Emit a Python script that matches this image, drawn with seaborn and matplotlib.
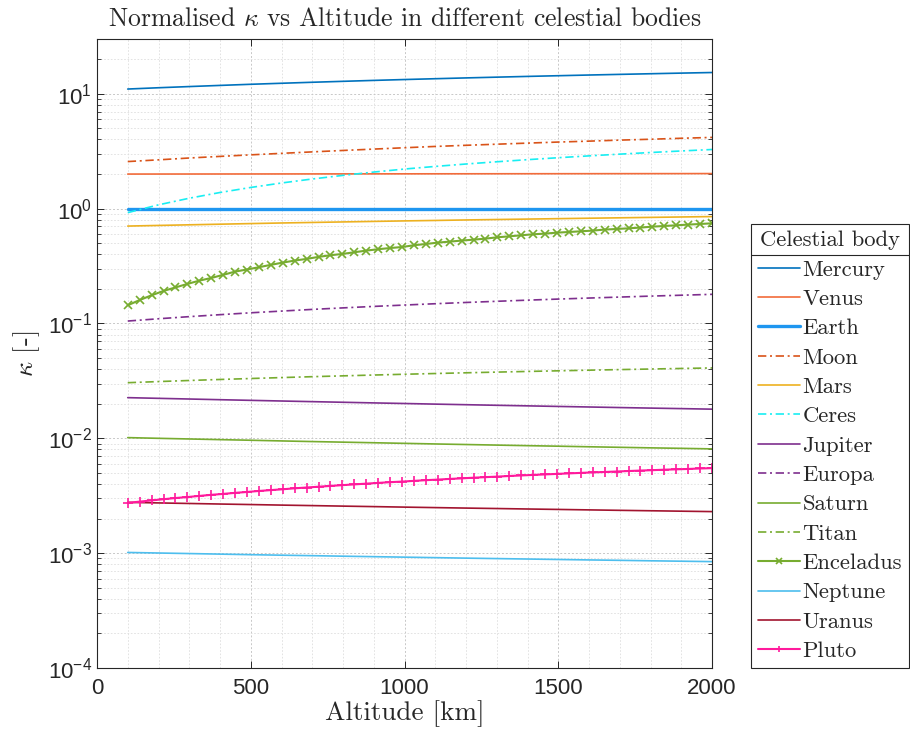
import numpy as np
import matplotlib
matplotlib.use("Agg")
import matplotlib.pyplot as plt
import seaborn as sns
from matplotlib.ticker import LogLocator, MultipleLocator, FixedLocator, NullFormatter
from matplotlib.lines import Line2D

# ---------------- data ----------------
alt_line = [100, 200, 300, 400, 500, 600, 700, 800, 900, 1000,
            1100, 1200, 1300, 1400, 1500, 1600, 1700, 1800, 1900, 2000]
alt_mark = np.linspace(100, 2000, 50)

mercury = [11.00, 11.29, 11.56, 11.83, 12.10, 12.35, 12.60, 12.84, 13.08, 13.31,
           13.53, 13.75, 13.96, 14.17, 14.37, 14.57, 14.76, 14.95, 15.14, 15.32]
venus = [2.000, 2.001, 2.002, 2.003, 2.004, 2.005, 2.006, 2.007, 2.008, 2.009,
         2.010, 2.011, 2.012, 2.013, 2.014, 2.015, 2.016, 2.017, 2.018, 2.020]
earth = [1.0] * 20
moon = [2.57, 2.66, 2.76, 2.85, 2.94, 3.03, 3.12, 3.21, 3.30, 3.39,
        3.48, 3.56, 3.64, 3.72, 3.80, 3.87, 3.95, 4.02, 4.10, 4.17]
mars = [0.705, 0.714, 0.723, 0.732, 0.741, 0.750, 0.758, 0.766, 0.774, 0.782,
        0.789, 0.797, 0.804, 0.811, 0.818, 0.825, 0.832, 0.839, 0.846, 0.853]
ceres = [0.923, 1.079, 1.232, 1.382, 1.529, 1.672, 1.812, 1.948, 2.082, 2.212,
         2.331, 2.447, 2.559, 2.669, 2.776, 2.880, 2.982, 3.081, 3.178, 3.273]
jupiter = [0.02260, 0.02229, 0.02199, 0.02169, 0.02141, 0.02113, 0.02086, 0.02060, 0.02034, 0.02010,
           0.01985, 0.01962, 0.01939, 0.01917, 0.01895, 0.01874, 0.01853, 0.01833, 0.01814, 0.01794]
europa = [0.1050, 0.1099, 0.1147, 0.1193, 0.1239, 0.1282, 0.1326, 0.1367, 0.1408, 0.1447,
          0.1486, 0.1524, 0.1560, 0.1596, 0.1631, 0.1665, 0.1698, 0.1731, 0.1762, 0.1794]
saturn = [0.01014, 0.01000, 0.00987, 0.00974, 0.00962, 0.00949, 0.00937, 0.00926, 0.00915, 0.00904,
          0.00893, 0.00883, 0.00873, 0.00863, 0.00854, 0.00844, 0.00835, 0.00826, 0.00818, 0.00809]
titan = [0.03050, 0.03120, 0.03188, 0.03254, 0.03317, 0.03380, 0.03441, 0.03499, 0.03557, 0.03613,
         0.03667, 0.03720, 0.03772, 0.03822, 0.03871, 0.03920, 0.03967, 0.04012, 0.04057, 0.04100]
neptune = [0.001014, 0.001003, 0.000992, 0.000981, 0.000970, 0.000960, 0.000951, 0.000941, 0.000932, 0.000923,
           0.000914, 0.000905, 0.000897, 0.000889, 0.000881, 0.000873, 0.000866, 0.000858, 0.000851, 0.000844]
uranus = [0.002770, 0.002738, 0.002708, 0.002678, 0.002650, 0.002621, 0.002595, 0.002568, 0.002543, 0.002517,
          0.002493, 0.002469, 0.002447, 0.002424, 0.002403, 0.002381, 0.002360, 0.002340, 0.002320, 0.002301]
enceladus = [0.144, 0.160, 0.176, 0.192, 0.206, 0.221, 0.236, 0.249, 0.265, 0.283,
             0.295, 0.309, 0.324, 0.339, 0.353, 0.365, 0.380, 0.393, 0.403, 0.417,
             0.431, 0.443, 0.454, 0.463, 0.480, 0.492, 0.506, 0.516, 0.527, 0.537,
             0.548, 0.563, 0.574, 0.586, 0.598, 0.606, 0.618, 0.626, 0.635, 0.644,
             0.657, 0.665, 0.674, 0.684, 0.697, 0.706, 0.716, 0.726, 0.735, 0.745]
pluto = [0.00274, 0.00281, 0.00288, 0.00295, 0.00302, 0.00308, 0.00315, 0.00322, 0.00328, 0.00335,
         0.00341, 0.00348, 0.00354, 0.00360, 0.00367, 0.00373, 0.00379, 0.00385, 0.00391, 0.00397,
         0.00403, 0.00409, 0.00415, 0.00420, 0.00426, 0.00432, 0.00437, 0.00443, 0.00448, 0.00454,
         0.00459, 0.00464, 0.00470, 0.00475, 0.00480, 0.00485, 0.00490, 0.00495, 0.00500, 0.00505,
         0.00509, 0.00514, 0.00519, 0.00524, 0.00528, 0.00533, 0.00537, 0.00541, 0.00546, 0.00550]

bodies = ["Mercury", "Venus", "Earth", "Moon", "Mars", "Ceres", "Jupiter", "Europa",
          "Saturn", "Titan", "Enceladus", "Neptune", "Uranus", "Pluto"]

# ---------------- styling ----------------
sns.set_style("ticks")
plt.rcParams.update({
    "font.family": ["Liberation Sans", "DejaVu Sans"],
    "mathtext.fontset": "custom",
    "mathtext.rm": "Liberation Sans",
    "mathtext.it": "Liberation Sans:italic",
    "mathtext.bf": "Liberation Sans:bold",
    "axes.unicode_minus": False,
})

DD = (0, (5, 2.2, 1.2, 2.2))
series = [
    ("Mercury", alt_line, mercury, "#0072BD", "-", 1.2, None, 0),
    ("Venus", alt_line, venus, "#F26B3A", "-", 1.2, None, 0),
    ("Earth", alt_line, earth, "#1E96F0", "-", 2.4, None, 0),
    ("Moon", alt_line, moon, "#D95319", DD, 1.2, None, 0),
    ("Mars", alt_line, mars, "#EDB120", "-", 1.2, None, 0),
    ("Ceres", alt_line, ceres, "#19EEF2", DD, 1.2, None, 0),
    ("Jupiter", alt_line, jupiter, "#7E2F8E", "-", 1.2, None, 0),
    ("Europa", alt_line, europa, "#7E2F8E", DD, 1.2, None, 0),
    ("Saturn", alt_line, saturn, "#77AC30", "-", 1.2, None, 0),
    ("Titan", alt_line, titan, "#77AC30", DD, 1.2, None, 0),
    ("Enceladus", alt_mark, enceladus, "#77AC30", "-", 1.5, "x", 5.5),
    ("Neptune", alt_line, neptune, "#4DBEEE", "-", 1.2, None, 0),
    ("Uranus", alt_line, uranus, "#A2142F", "-", 1.2, None, 0),
    ("Pluto", alt_mark, pluto, "#FF1A9C", "-", 1.5, "+", 7),
]

fig = plt.figure(figsize=(9.1, 7.33), dpi=100)
ax = fig.add_axes([97 / 910, 1 - 668 / 733, (712 - 97) / 910, (668 - 39) / 733])

for name, xs, ys, col, ls, lw, mk, ms in series:
    kw = dict(color=col, linestyle=ls, linewidth=lw, label=name)
    if mk:
        kw.update(marker=mk, markersize=ms, markeredgewidth=1.2,
                  markeredgecolor=col, markerfacecolor=col)
    sns.lineplot(x=np.asarray(xs, float), y=np.asarray(ys, float), ax=ax, **kw)

ax.set_yscale("log")
ax.set_xlim(0, 2000)
ax.set_ylim(1e-4, 30)
ax.xaxis.set_major_locator(MultipleLocator(500))
ax.xaxis.set_minor_locator(MultipleLocator(100))
ax.yaxis.set_major_locator(FixedLocator([1e-4, 1e-3, 1e-2, 1e-1, 1, 10]))
ax.yaxis.set_minor_locator(LogLocator(base=10, subs=np.arange(2, 10), numticks=20))
ax.yaxis.set_minor_formatter(NullFormatter())

ax.grid(True, which="major", color="#c8c8c8", linestyle=(0, (2, 2)), linewidth=0.7)
ax.grid(True, which="minor", color="#dedede", linestyle=(0, (2, 2)), linewidth=0.6)
ax.set_axisbelow(True)

ax.tick_params(which="both", direction="in", top=True, right=True, color="#262626")
ax.tick_params(which="major", length=5, width=0.7, labelsize=16, colors="#262626",
               labelcolor="#262626")
ax.tick_params(which="minor", length=3, width=0.6)
ax.tick_params(axis="x", which="minor", length=0)
ax.tick_params(axis="x", which="major", pad=7)
for s in ax.spines.values():
    s.set_color("#262626")
    s.set_linewidth(0.8)

ax.set_title(r"Normalised $\kappa$ vs Altitude in different celestial bodies",
             fontfamily="cmr10", math_fontfamily="cm", fontsize=18.5, pad=9)
ax.set_xlabel(r"Altitude [km]", fontfamily="cmr10", math_fontfamily="cm", fontsize=19.5,
              labelpad=1)
ax.set_ylabel(r"$\kappa$ [-]", fontfamily="cmr10", math_fontfamily="cm", fontsize=19,
              labelpad=4)

handles, labels = ax.get_legend_handles_labels()
leg = ax.legend(handles, labels, loc="lower left",
                bbox_to_anchor=(751 / 910, 1 - 668 / 733), bbox_transform=fig.transFigure,
                title="Celestial body",
                prop={"family": "cmr10", "size": 16.3},
                title_fontproperties={"family": "cmr10", "size": 16.3},
                frameon=True, fancybox=False, framealpha=1, edgecolor="#262626",
                borderaxespad=0, borderpad=0.3, labelspacing=0.42,
                handlelength=1.85, handletextpad=0.12)
leg.get_frame().set_linewidth(0.8)
for h in leg.legend_handles:
    if hasattr(h, "get_marker") and h.get_marker() in ("x", "+"):
        h.set_markersize(5)

fig.canvas.draw()
r = fig.canvas.get_renderer()
tb = leg.get_title().get_window_extent(r)
lb = leg.get_window_extent(r)
ysep = tb.y0 - 5
fw, fh = fig.bbox.width, fig.bbox.height
fig.add_artist(Line2D([lb.x0 / fw, lb.x1 / fw], [ysep / fh, ysep / fh],
                      transform=fig.transFigure, color="#262626", lw=0.8))

fig.savefig("out.png", dpi=100)
